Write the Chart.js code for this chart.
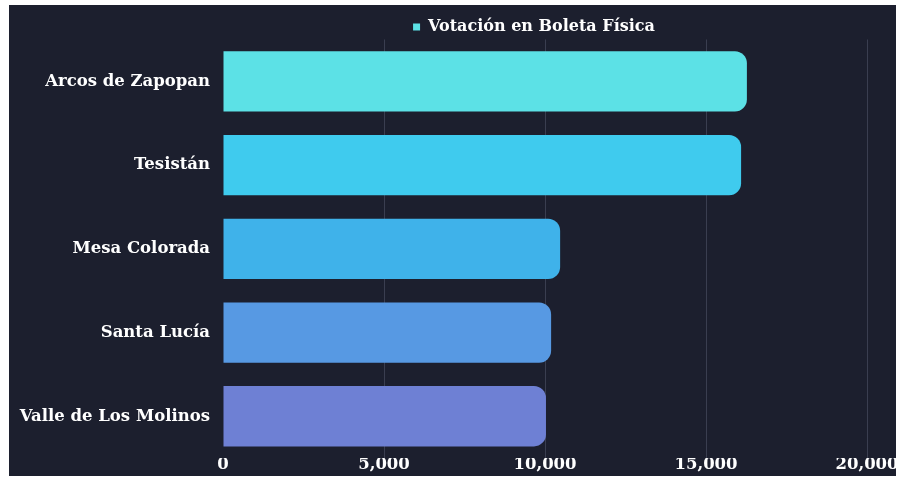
<!DOCTYPE html>
<html>
<head>
<meta charset="utf-8">
<script src="https://cdn.jsdelivr.net/npm/chart.js@4.4.0/dist/chart.umd.min.js"></script>
<style>
  html, body { margin: 0; padding: 0; background: #ffffff; width: 911px; height: 479px; overflow: hidden; }
  #frame { position: absolute; left: 9px; top: 5px; width: 887px; height: 471px; background: #1c1f2e; overflow: hidden; }
  #inner { position: absolute; left: 0; top: 0; width: 1050px; height: 468px; }
</style>
</head>
<body>
<div id="frame"><div id="inner"><canvas id="c"></canvas></div></div>
<script>
const categories = ["Arcos de Zapopan", "Tesistán", "Mesa Colorada", "Santa Lucía", "Valle de Los Molinos"];
const votos = [16270, 16090, 10470, 10190, 10030];
const seriesLabel = "Votación en Boleta Física";
const barColors = ["#5ce1e6", "#3fcbee", "#3fb2ea", "#5799e3", "#6e80d4"];
const xTicks = [0, 5000, 10000, 15000, 20000];

const fontFam = "'DejaVu Serif', 'Liberation Serif', serif";

new Chart(document.getElementById('c'), {
  type: 'bar',
  data: {
    labels: categories,
    datasets: [{
      label: seriesLabel,
      data: votos,
      backgroundColor: barColors,
      borderRadius: 12,
      borderSkipped: 'start',
      categoryPercentage: 0.8,
      barPercentage: 0.9
    }]
  },
  options: {
    indexAxis: 'y',
    responsive: true,
    maintainAspectRatio: false,
    animation: false,
    layout: { padding: { left: 0, right: 0, top: 9.5, bottom: 0 } },
    plugins: {
      legend: {
        display: true,
        maxHeight: 25,
        labels: {
          color: '#ffffff',
          boxWidth: 7,
          boxHeight: 7,
          padding: 4.5,
          font: { family: fontFam, size: 16, weight: 'bold' },
          generateLabels: (chart) => [{
            text: seriesLabel,
            fillStyle: barColors[0],
            strokeStyle: barColors[0],
            lineWidth: 0,
            fontColor: '#ffffff',
            datasetIndex: 0
          }]
        }
      },
      tooltip: { enabled: false }
    },
    scales: {
      x: {
        min: 0,
        max: 20000,
        afterBuildTicks: (axis) => { axis.ticks = xTicks.map(v => ({ value: v })); },
        grid: {
          color: (ctx) => (ctx.tick && ctx.tick.value === 0) ? 'rgba(0,0,0,0)' : '#3a3e50',
          drawTicks: false
        },
        border: { display: false },
        ticks: {
          color: '#ffffff',
          padding: -3,
          font: { family: fontFam, size: 16.5, weight: 'bold' },
          callback: (v) => Number(v).toLocaleString('en-US')
        }
      },
      y: {
        grid: { display: false },
        border: { display: false },
        afterFit: (axis) => { axis.width = 214; },
        ticks: {
          color: '#ffffff',
          padding: 5,
          font: { family: fontFam, size: 16.5, weight: 'bold' }
        }
      },
      spacer: {
        type: 'linear',
        position: 'right',
        display: true,
        grid: { display: false },
        border: { display: false },
        ticks: { display: false },
        afterFit: (axis) => { axis.width = 192; }
      }
    }
  }
});
</script>
</body>
</html>
